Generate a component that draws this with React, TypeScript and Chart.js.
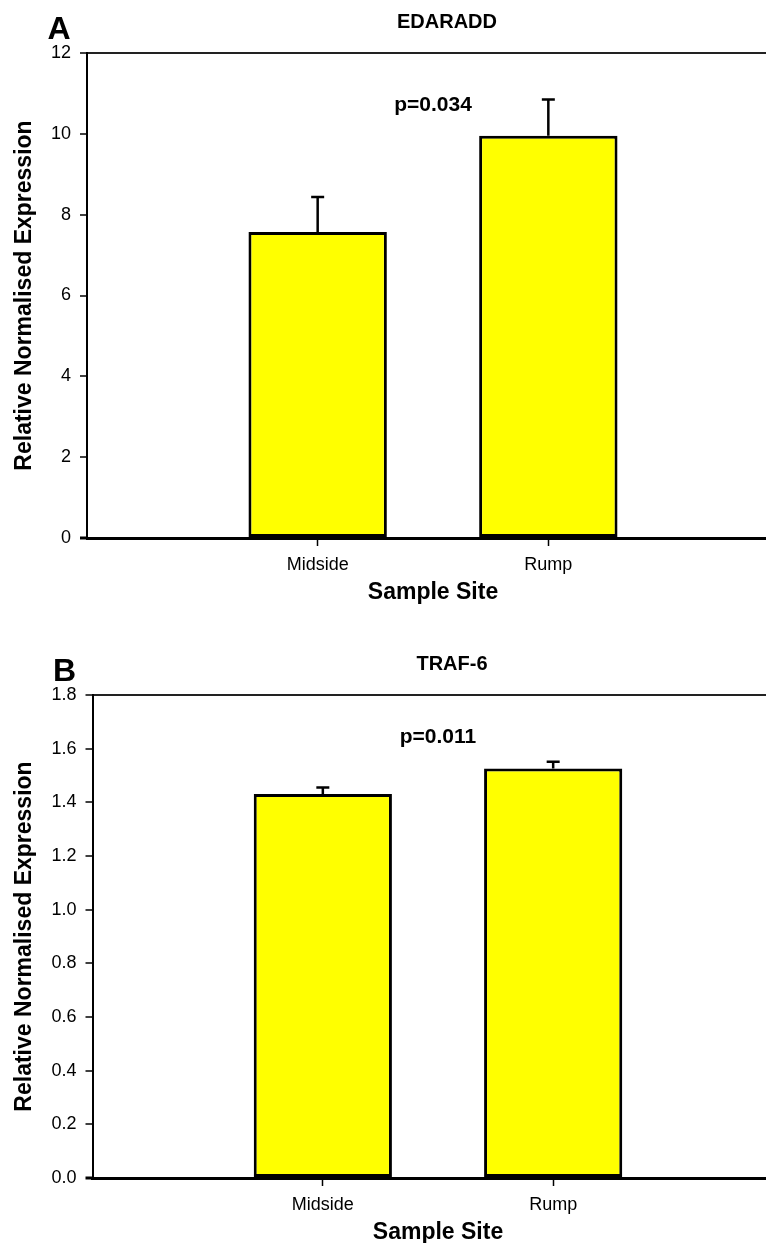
import React, { useEffect, useRef } from "react";
import { Chart, registerables } from "chart.js";

Chart.register(...registerables);

// Sample sites (padded with empty slots on each side of the x axis)
const sites = ["Midside", "Rump"];
const axisSlots = ["", ...sites, ""];

// EDARADD expression (mean and upper SEM)
const edaraddMeans = [7.57, 9.95];
const edaraddErrors = [0.87, 0.9];
const edaraddTicks = { min: 0, max: 12, step: 2, decimals: 0 };

// TRAF-6 expression (mean and upper SEM)
const traf6Means = [1.431, 1.526];
const traf6Errors = [0.024, 0.025];
const traf6Ticks = { min: 0, max: 1.8, step: 0.2, decimals: 1 };

const FONT = "'Liberation Sans', Arial, Helvetica, sans-serif";
const INK = "#000000";
const BAR_FILL = "#FFFF00";

const pad = (vals: number[]) => [null, ...vals, null];

type PanelProps = {
  letter: string;
  gene: string;
  means: number[];
  errors: number[];
  ticks: { min: number; max: number; step: number; decimals: number };
  pText: string;
  pAt: number;
  axisWidth: number;
  padRight: number;
  padBottom: number;
  top: number;
};

const panelText = {
  id: "panelText",
  afterDatasetsDraw(chart: any, _args: any, opts: any) {
    const { ctx, chartArea, scales } = chart;
    const y = scales.y;
    const x = scales.x;
    const meta = chart.getDatasetMeta(0);
    ctx.save();
    // upper error bars
    ctx.strokeStyle = INK;
    ctx.lineWidth = 2.5;
    ctx.lineCap = "butt";
    opts.errors.forEach((e: number | null, i: number) => {
      const v = opts.values[i];
      if (e == null || v == null) return;
      const el = meta.data[i];
      const cx = el.x;
      const yBase = y.getPixelForValue(v);
      const yTop = y.getPixelForValue(v + e);
      ctx.beginPath();
      ctx.moveTo(cx, yBase);
      ctx.lineTo(cx, yTop);
      ctx.moveTo(cx - 6.5, yTop);
      ctx.lineTo(cx + 6.5, yTop);
      ctx.stroke();
    });
    // significance label between the two sites
    ctx.fillStyle = INK;
    ctx.textAlign = "center";
    ctx.textBaseline = "middle";
    ctx.font = `bold 21px ${FONT}`;
    ctx.fillText(opts.pText, x.getPixelForValue(1.5), y.getPixelForValue(opts.pAt));
    // panel letter and gene title
    ctx.font = `bold 32px ${FONT}`;
    ctx.fillText(opts.letter, chartArea.left - 28, chartArea.top - 23);
    ctx.font = `bold 20px ${FONT}`;
    ctx.fillText(opts.gene, (chartArea.left + chartArea.right) / 2 + 14, chartArea.top - 31);
    ctx.restore();
  },
};

function Panel(props: PanelProps) {
  const ref = useRef<HTMLCanvasElement | null>(null);

  useEffect(() => {
    if (!ref.current) return;
    const t = props.ticks;
    const values = pad(props.means);
    const errs = pad(props.errors);
    const chart = new Chart(ref.current, {
      type: "bar",
      data: {
        labels: axisSlots,
        datasets: [
          {
            data: values as any,
            backgroundColor: BAR_FILL,
            borderColor: INK,
            borderWidth: 3,
            borderSkipped: false,
            categoryPercentage: 1,
            barPercentage: 0.6,
          },
        ],
      },
      options: {
        responsive: false,
        animation: false,
        devicePixelRatio: 1,
        layout: {
          padding: { left: 0, right: props.padRight, top: 53, bottom: props.padBottom },
        },
        plugins: {
          legend: { display: false },
          tooltip: { enabled: false },
          panelText: {
            errors: errs,
            values,
            pText: props.pText,
            pAt: props.pAt,
            letter: props.letter,
            gene: props.gene,
          },
        } as any,
        scales: {
          x: {
            type: "category",
            offset: false,
            afterFit: (s: any) => {
              s.height = 80;
            },
            grid: {
              offset: false,
              drawOnChartArea: false,
              drawTicks: true,
              tickLength: 8,
              tickWidth: 1.5,
              tickColor: (c: any) => (c.index === 1 || c.index === 2 ? INK : "rgba(0,0,0,0)"),
            },
            border: { display: true, color: INK, width: 3 },
            ticks: {
              autoSkip: false,
              maxRotation: 0,
              padding: 8,
              color: INK,
              font: { family: FONT, size: 18 },
            },
            title: {
              display: true,
              text: "Sample Site",
              color: INK,
              font: { family: FONT, size: 23, weight: "bold" },
              padding: { top: 0, bottom: 12 },
            },
          },
          y: {
            type: "linear",
            min: t.min,
            max: t.max,
            afterFit: (s: any) => {
              s.width = props.axisWidth;
            },
            ticks: {
              stepSize: t.step,
              padding: 9,
              color: INK,
              font: { family: FONT, size: 18 },
              callback: (v: any) => Number(v).toFixed(t.decimals),
            },
            grid: {
              drawOnChartArea: true,
              drawTicks: true,
              tickLength: 7,
              tickWidth: (c: any) => (c.tick && c.tick.value === 0 ? 3 : 1.5),
              tickColor: INK,
              color: (c: any) =>
                c.tick && Math.abs(c.tick.value - t.max) < 1e-9 ? "#222222" : "rgba(0,0,0,0)",
              lineWidth: 2,
            },
            border: { display: true, color: INK, width: 2 },
            title: {
              display: true,
              text: "Relative Normalised Expression",
              color: INK,
              font: { family: FONT, size: 23, weight: "bold" },
              padding: { top: 11, bottom: 0 },
            },
          },
        },
      },
      plugins: [panelText as any],
    });
    return () => chart.destroy();
  }, []);

  return (
    <canvas
      ref={ref}
      width={800}
      height={642}
      style={{ position: "absolute", left: 0, top: props.top, width: 800, height: 642 }}
    />
  );
}

export default function App() {
  return (
    <div
      style={{
        position: "absolute",
        left: 0,
        top: 0,
        width: 766,
        height: 1243,
        overflow: "hidden",
        background: "#ffffff",
      }}
    >
      <Panel
        letter="A"
        gene="EDARADD"
        means={edaraddMeans}
        errors={edaraddErrors}
        ticks={edaraddTicks}
        pText="p=0.034"
        pAt={10.71}
        axisWidth={87}
        padRight={21}
        padBottom={24}
        top={0}
      />
      <Panel
        letter="B"
        gene="TRAF-6"
        means={traf6Means}
        errors={traf6Errors}
        ticks={traf6Ticks}
        pText="p=0.011"
        pAt={1.644}
        axisWidth={92.5}
        padRight={16.5}
        padBottom={26}
        top={642}
      />
    </div>
  );
}
